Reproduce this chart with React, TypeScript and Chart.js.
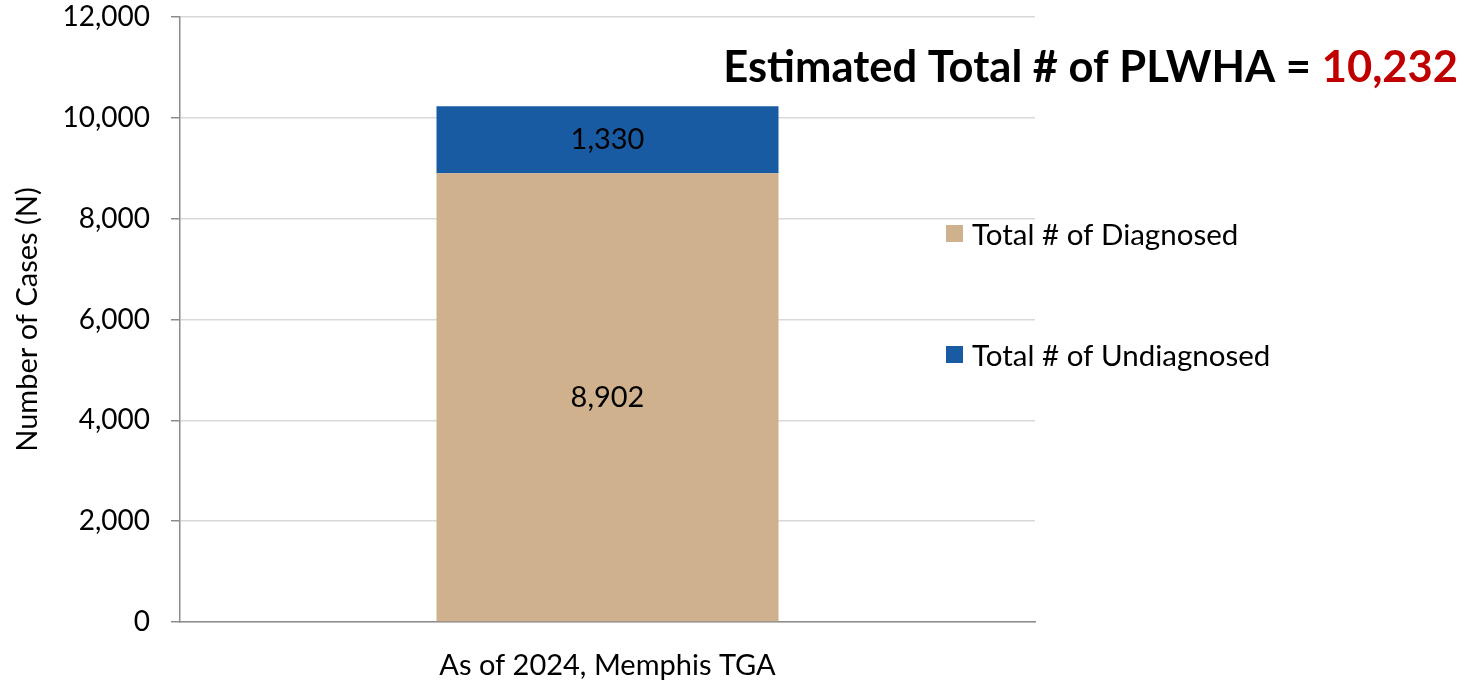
import React, { useEffect, useRef } from "react";
import { Chart, registerables } from "chart.js";

Chart.register(...registerables);

const categories = ["As of 2024, Memphis TGA"];
const seriesNames = ["Total # of Diagnosed", "Total # of Undiagnosed"];
const diagnosed = [8902];
const undiagnosed = [1330];
const yTicks = [0, 2000, 4000, 6000, 8000, 10000, 12000];
const titleLabel = "Estimated Total # of PLWHA = ";
const totalLabel = "10,232";

const TAN = "#CFB18D";
const BLUE = "#195BA3";
const FONT = "Lato, 'Open Sans', sans-serif";

const fmt = (v: number) => v.toLocaleString("en-US");

export default function App() {
  const ref = useRef<HTMLCanvasElement | null>(null);
  useEffect(() => {
    document.body.style.margin = "0";
    const canvas = ref.current!;
    const overlay = {
      id: "overlay",
      afterDraw(chart: any) {
        const ctx = chart.ctx as CanvasRenderingContext2D;
        const xs = chart.scales.x;
        const ys = chart.scales.y;
        ctx.save();
        // data labels
        ctx.fillStyle = "#000";
        ctx.font = `29px ${FONT}`;
        ctx.textAlign = "center";
        ctx.textBaseline = "middle";
        categories.forEach((_, i) => {
          const cx = xs.getPixelForValue(i);
          const d = diagnosed[i];
          const u = undiagnosed[i];
          ctx.fillText(fmt(d), cx, (ys.getPixelForValue(0) + ys.getPixelForValue(d)) / 2);
          ctx.fillText(fmt(u), cx, (ys.getPixelForValue(d) + ys.getPixelForValue(d + u)) / 2);
        });
        // legend
        const colors = [TAN, BLUE];
        const legendY = [234, 355];
        ctx.textAlign = "left";
        ctx.font = `29.5px ${FONT}`;
        seriesNames.forEach((n, i) => {
          ctx.fillStyle = colors[i];
          ctx.fillRect(946, legendY[i] - 9, 17, 17);
          ctx.fillStyle = "#000";
          ctx.fillText(n, 972, legendY[i] + 1);
        });
        // title
        ctx.font = `bold 43.5px ${FONT}`;
        ctx.textBaseline = "alphabetic";
        const w1 = ctx.measureText(titleLabel).width;
        const w2 = ctx.measureText(totalLabel).width;
        const right = 1458;
        const start = right - w1 - w2;
        ctx.fillStyle = "#000";
        ctx.fillText(titleLabel, start, 82);
        ctx.fillStyle = "#C00000";
        ctx.fillText(totalLabel, start + w1, 82);
        ctx.restore();
      },
    };
    const chart = new Chart(canvas, {
      type: "bar",
      data: {
        labels: categories,
        datasets: [
          { label: seriesNames[0], data: diagnosed, backgroundColor: TAN, barPercentage: 0.4, categoryPercentage: 1 },
          { label: seriesNames[1], data: undiagnosed, backgroundColor: BLUE, barPercentage: 0.4, categoryPercentage: 1 },
        ],
      },
      options: {
        animation: false,
        responsive: false,
        maintainAspectRatio: false,
        layout: { padding: { top: 17, right: 441, left: 0, bottom: 0 } },
        plugins: { legend: { display: false }, tooltip: { enabled: false } },
        scales: {
          x: {
            stacked: true,
            grid: { display: false },
            border: { display: true, color: "#8c8c8c", width: 1.5 },
            ticks: { color: "#000", font: { family: FONT, size: 29 }, padding: 18 },
            afterFit(scale: any) {
              scale.height = 58;
              scale.paddingLeft = 0;
              scale.paddingRight = 0;
            },
          },
          y: {
            stacked: true,
            min: 0,
            max: 12000,
            afterBuildTicks(scale: any) {
              scale.ticks = yTicks.map((v) => ({ value: v }));
            },
            grid: { color: "#d9d9d9", lineWidth: 1.5, tickLength: 9, tickColor: "#8c8c8c" },
            border: { display: true, color: "#8c8c8c", width: 1.5 },
            ticks: {
              color: "#000",
              font: { family: FONT, size: 28 },
              padding: 21,
              callback: (v: any) => fmt(Number(v)),
            },
            title: {
              display: true,
              text: "Number of Cases (N)",
              color: "#000",
              font: { family: FONT, size: 29 },
              padding: { top: 10, bottom: 0 },
            },
            afterFit(scale: any) {
              scale.width = 180;
              scale.paddingTop = 0;
              scale.paddingBottom = 0;
            },
          },
        },
      },
      plugins: [overlay],
    } as any);
    return () => chart.destroy();
  }, []);
  return (
    <div style={{ position: "absolute", left: 0, top: 0, width: 1476, height: 680, background: "#fff" }}>
      <canvas ref={ref} width={1476} height={680} style={{ width: 1476, height: 680 }} />
    </div>
  );
}
